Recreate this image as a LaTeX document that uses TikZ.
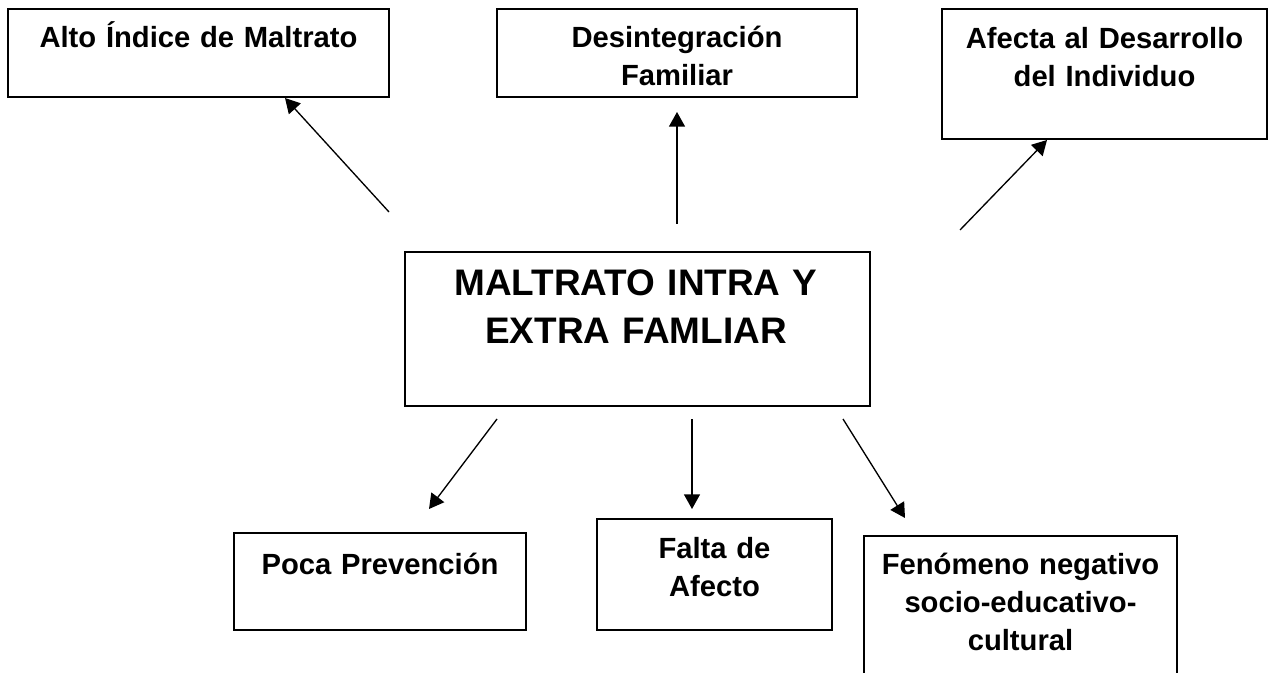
\documentclass[tikz,border=0pt]{standalone}
\usepackage{fontspec}
\setmainfont{Liberation Sans}
\usetikzlibrary{arrows.meta,fit}
\tikzset{
  box/.style={draw=black, line width=1.4pt, inner sep=0pt, fill=none},
  txt/.style={inner sep=0pt, anchor=base, align=center, text width=330pt,
    font=\fontsize{21.9pt}{28.5pt}\selectfont\bfseries},
  bigtxt/.style={inner sep=0pt, anchor=base, align=center, text width=330pt,
    font=\fontsize{27.7pt}{36pt}\selectfont\bfseries},
  arr/.style={line width=1pt, -{Triangle[length=11pt,width=12pt]}}
}
\begin{document}
\begin{tikzpicture}[x=0.75pt,y=-0.75pt]
\clip (0,0) rectangle (1274,673);
\fill[white] (0,0) rectangle (1274,673);
% boxes
\node[box, fit={(8,9) (389,97)}] (b1) {};
\node[box, fit={(497,9) (857,97)}] (b2) {};
\node[box, fit={(942,9) (1267,139)}] (b3) {};
\node[box, fit={(405,252) (870,406)}] (main) {};
\node[box, fit={(234,533) (526,630)}] (b4) {};
\node[box, fit={(597,519) (832,630)}] (b5) {};
\node[box, fit={(864,536) (1177,720)}] (b6) {};
% texts
\node[txt] (t1) at (198.5,48) {Alto Índice de Maltrato};
\node[txt] (t2) at (677,48) {Desintegración\\Familiar};
\node[txt] (t3) at (1104.5,49) {Afecta al Desarrollo\\del Individuo};
\node[bigtxt] (tm) at (636,296) {MALTRATO INTRA Y\\EXTRA FAMLIAR};
\node[txt] (t4) at (380,574) {Poca Prevención};
\node[txt] (t5) at (714.5,558) {Falta de\\Afecto};
\node[txt] (t6) at (1020.5,574) {Fenómeno negativo\\socio-educativo-\\cultural};
% arrow endpoints
\coordinate (a1s) at (389,212); \coordinate (a1e) at (285,98);
\coordinate (a2s) at (677,224); \coordinate (a2e) at (677,112);
\coordinate (a3s) at (960,230); \coordinate (a3e) at (1047,140);
\coordinate (a4s) at (497,419); \coordinate (a4e) at (429,509);
\coordinate (a5s) at (692,419); \coordinate (a5e) at (692,509);
\coordinate (a6s) at (843,419); \coordinate (a6e) at (905,518);
\draw[arr] (a1s) -- (a1e);
\draw[arr] (a2s) -- (a2e);
\draw[arr] (a3s) -- (a3e);
\draw[arr] (a4s) -- (a4e);
\draw[arr] (a5s) -- (a5e);
\draw[arr] (a6s) -- (a6e);
\end{tikzpicture}
\end{document}
